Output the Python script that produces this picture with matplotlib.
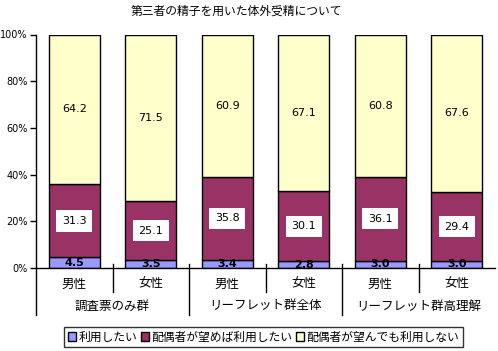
import matplotlib
matplotlib.use("Agg")
import matplotlib.pyplot as plt
import numpy as np

plt.rcParams['font.family'] = ['Noto Sans CJK JP', 'DejaVu Sans']

title = "第三者の精子を用いた体外受精について"
sexes = ["男性", "女性", "男性", "女性", "男性", "女性"]
groups = ["調査票のみ群", "リーフレット群全体", "リーフレット群高理解"]
series_names = ["利用したい", "配偶者が望めば利用したい", "配偶者が望んでも利用しない"]
use = [4.5, 3.5, 3.4, 2.8, 3.0, 3.0]
if_partner = [31.3, 25.1, 35.8, 30.1, 36.1, 29.4]
not_use = [64.2, 71.5, 60.9, 67.1, 60.8, 67.6]
yticks = [0, 20, 40, 60, 80, 100]
colors = ["#9999FF", "#993366", "#FFFFCC"]

W, H = 498, 351
fig = plt.figure(figsize=(W/100, H/100), dpi=100)
left, right, top, bottom = 36, 495, 34.5, 268
ax = fig.add_axes([left/W, 1-bottom/H, (right-left)/W, (bottom-top)/H])

data = np.array([use, if_partner, not_use])
tot = data.sum(axis=0)
pct = data / tot * 100
x = np.arange(len(sexes))
base = np.zeros(len(sexes))
for i in range(3):
    ax.bar(x, pct[i], bottom=base, width=0.67, color=colors[i], edgecolor='black',
           linewidth=1, label=series_names[i], zorder=2)
    for j in range(len(x)):
        yc = base[j] + pct[i][j]/2
        val = f"{data[i][j]:.1f}"
        if i == 0:
            ax.text(x[j], yc, val, ha='center', va='center', fontsize=8, fontweight='bold',
                    family='DejaVu Sans', zorder=3)
        elif i == 1:
            ax.text(x[j], yc, val, ha='center', va='center', fontsize=8, family='DejaVu Sans',
                    bbox=dict(facecolor='white', edgecolor='none', pad=4), zorder=3)
        else:
            ax.text(x[j], yc, val, ha='center', va='center', fontsize=8, family='DejaVu Sans', zorder=3)
    base += pct[i]

ax.set_xlim(-0.5, len(sexes)-0.5)
ax.set_ylim(0, 100)
ax.set_yticks(yticks)
ax.set_yticklabels([f"{v}%" for v in yticks], fontsize=7, family='DejaVu Sans')
ax.tick_params(axis='y', direction='out', length=4, width=1, pad=2)
ax.set_xticks([])
for s in ['top', 'right']:
    ax.spines[s].set_visible(False)
ax.spines['left'].set_linewidth(1)
ax.spines['bottom'].set_linewidth(1)

trans = ax.get_xaxis_transform()
def ypx(py):
    return (bottom - py) / (bottom - top)
# separators
for b in np.arange(-0.5, len(sexes)-0.5 + 0.01, 1.0):
    idx = int(round(b + 0.5))
    if idx == len(sexes):
        continue
    if idx % 2 == 0:
        y1 = ypx(315)
    else:
        y1 = ypx(292)
    y0 = ypx(264) if idx != 0 else 0
    ax.plot([b, b], [y0, y1], transform=trans, color='black', lw=1, clip_on=False)
for j, s in enumerate(sexes):
    ax.text(x[j], ypx(284), s, transform=trans, ha='center', va='center', fontsize=9)
for g, name in enumerate(groups):
    ax.text(2*g + 0.5, ypx(306), name, transform=trans, ha='center', va='center', fontsize=9)

fig.text(236/W, 1-11/H, title, ha='center', va='center', fontsize=8.5)

leg = fig.legend(loc='center', bbox_to_anchor=(263.5/W, 1-337/H), ncol=3, fontsize=8.5,
                 frameon=True, fancybox=False, edgecolor='black', handlelength=0.7,
                 handleheight=0.7, handletextpad=0.2, columnspacing=0.3, borderpad=0.3,
                 borderaxespad=0)
leg.get_frame().set_linewidth(1)

fig.savefig("out.png", dpi=100)
